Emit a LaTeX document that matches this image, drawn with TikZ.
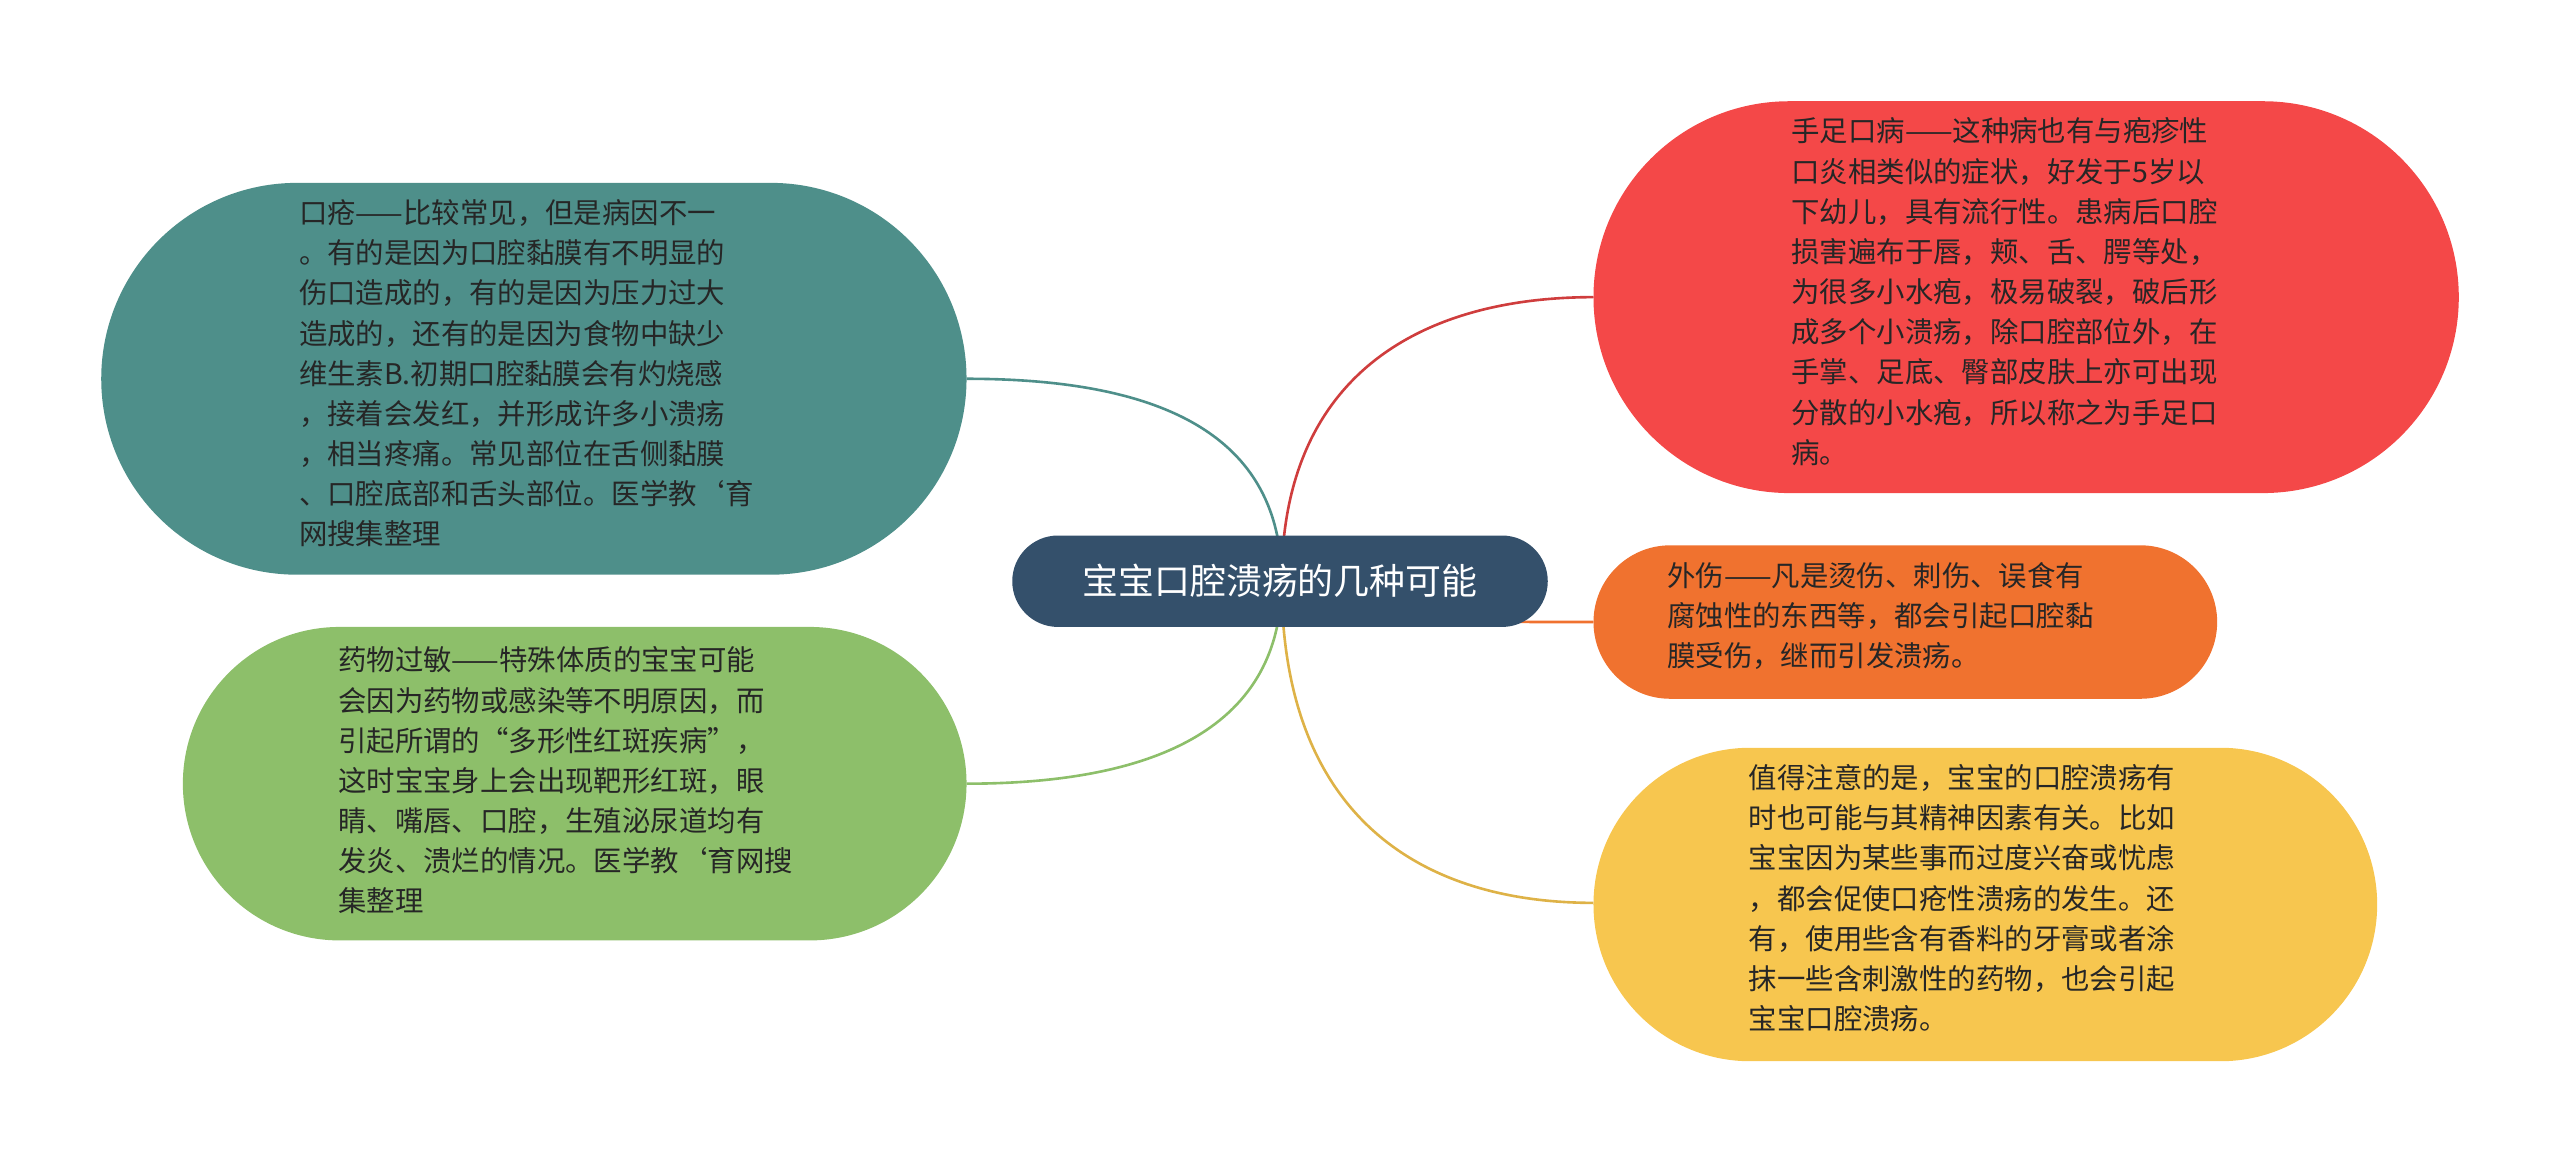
\documentclass[tikz,border=0pt]{standalone}
\usepackage{fontspec}
\setmainfont{Noto Sans CJK SC}
\begin{document}
\begin{tikzpicture}[x=1pt,y=-1pt,
  txt/.style={anchor=north west,align=left,inner sep=0pt,font=\fontsize{17.4}{24.6}\selectfont,text=black!85},
  link/.style={line width=1.6pt}]
\useasboundingbox (0,0) rectangle (1568,712);
\definecolor{cteal}{HTML}{4E8F8A}
\definecolor{cgreen}{HTML}{8DBF6A}
\definecolor{cred}{HTML}{F44848}
\definecolor{corange}{HTML}{F0722F}
\definecolor{cyellow}{HTML}{F7C64F}
\definecolor{cblue}{HTML}{34506B}
\fill[cteal,rounded corners=120] (62,112) rectangle (592,352);
\fill[cgreen,rounded corners=96] (112,384) rectangle (592,576);
\fill[cred,rounded corners=120] (976,62) rectangle (1506,302);
\fill[corange,rounded corners=47] (976,334) rectangle (1358,428);
\fill[cyellow,rounded corners=96] (976,458) rectangle (1456,650);
\coordinate (c) at (785,356);
\coordinate (t1) at (592,232);
\coordinate (t2) at (592,480);
\coordinate (r1) at (976,182);
\coordinate (r2) at (976,381);
\coordinate (r3) at (976,553);
\draw[link,cteal] (c) .. controls (785,260) and (700,232) .. (t1);
\draw[link,cgreen] (c) .. controls (785,450) and (700,480) .. (t2);
\draw[link,cred!85!black] (c) .. controls (785,230) and (870,182) .. (r1);
\draw[link,corange] (c) .. controls (785,381) and (880,381) .. (r2);
\draw[link,cyellow!90!black] (c) .. controls (785,500) and (870,553) .. (r3);
\fill[cblue,rounded corners=28] (620,328) rectangle (948,384);
\node[text=white,font=\fontsize{22}{26}\selectfont] (center) at (784,356) {宝宝口腔溃疡的几种可能};
\node[txt] (a) at (183,122) {口疮——比较常见，但是病因不一\\。有的是因为口腔黏膜有不明显的\\伤口造成的，有的是因为压力过大\\造成的，还有的是因为食物中缺少\\维生素B.初期口腔黏膜会有灼烧感\\，接着会发红，并形成许多小溃疡\\，相当疼痛。常见部位在舌侧黏膜\\、口腔底部和舌头部位。医学教`育\\网搜集整理};
\node[txt] (b) at (207,396) {药物过敏——特殊体质的宝宝可能\\会因为药物或感染等不明原因，而\\引起所谓的“多形性红斑疾病”，\\这时宝宝身上会出现靶形红斑，眼\\睛、嘴唇、口腔，生殖泌尿道均有\\发炎、溃烂的情况。医学教`育网搜\\集整理};
\node[txt] (d) at (1097,72) {手足口病——这种病也有与疱疹性\\口炎相类似的症状，好发于5岁以\\下幼儿，具有流行性。患病后口腔\\损害遍布于唇，颊、舌、腭等处，\\为很多小水疱，极易破裂，破后形\\成多个小溃疡，除口腔部位外，在\\手掌、足底、臀部皮肤上亦可出现\\分散的小水疱，所以称之为手足口\\病。};
\node[txt] (e) at (1021,344) {外伤——凡是烫伤、刺伤、误食有\\腐蚀性的东西等，都会引起口腔黏\\膜受伤，继而引发溃疡。};
\node[txt] (f) at (1071,468) {值得注意的是，宝宝的口腔溃疡有\\时也可能与其精神因素有关。比如\\宝宝因为某些事而过度兴奋或忧虑\\，都会促使口疮性溃疡的发生。还\\有，使用些含有香料的牙膏或者涂\\抹一些含刺激性的药物，也会引起\\宝宝口腔溃疡。};
\end{tikzpicture}
\end{document}
